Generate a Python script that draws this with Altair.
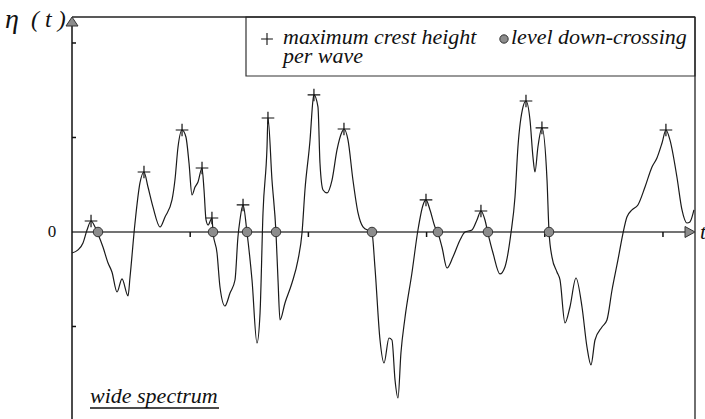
import altair as alt
import pandas as pd

# ---- surface elevation trace eta(t) ----
t_vals = [0.000, 0.051, 0.093, 0.127, 0.161, 0.195, 0.220, 0.262, 0.305, 0.338,
          0.381, 0.423, 0.474, 0.491, 0.533, 0.575, 0.609, 0.643, 0.685, 0.745,
          0.787, 0.846, 0.871, 0.897, 0.931, 0.964, 0.990, 1.015, 1.041, 1.066,
          1.100, 1.117, 1.134, 1.151, 1.184, 1.193, 1.227, 1.252, 1.294, 1.337,
          1.379, 1.404, 1.421, 1.447, 1.481, 1.523, 1.565, 1.591, 1.616, 1.650,
          1.658, 1.692, 1.726, 1.743, 1.760, 1.802, 1.861, 1.912, 1.946, 1.971,
          2.014, 2.039, 2.047, 2.081, 2.098, 2.124, 2.157, 2.200, 2.242, 2.284,
          2.301, 2.335, 2.377, 2.420, 2.462, 2.538, 2.563, 2.606, 2.640, 2.682,
          2.707, 2.733, 2.758, 2.783, 2.817, 2.876, 2.927, 2.970, 2.995, 3.029,
          3.071, 3.096, 3.130, 3.173, 3.223, 3.283, 3.325, 3.384, 3.426, 3.460,
          3.494, 3.519, 3.562, 3.621, 3.663, 3.714, 3.748, 3.773, 3.816, 3.841,
          3.875, 3.900, 3.917, 3.942, 3.976, 4.019, 4.036, 4.061, 4.103, 4.129,
          4.171, 4.213, 4.264, 4.315, 4.357, 4.391, 4.425, 4.484, 4.526, 4.569,
          4.619, 4.662, 4.695, 4.738, 4.788, 4.848, 4.907, 4.949, 4.992, 5.025,
          5.059, 5.118, 5.161, 5.203, 5.228, 5.262]
eta_vals = [-0.222, -0.190, -0.116, 0.021, 0.116, 0.053, -0.021, -0.159, -0.328, -0.423,
            -0.635, -0.497, -0.677, -0.476, 0.095, 0.519, 0.635, 0.476, 0.265, 0.053,
            0.159, 0.339, 0.550, 0.899, 1.079, 1.005, 0.730, 0.392, 0.476, 0.529,
            0.677, 0.444, 0.127, 0.074, 0.148, 0.000, -0.222, -0.582, -0.783, -0.646,
            -0.508, -0.053, 0.127, 0.286, -0.011, -0.508, -1.175, -0.857, 0.201, 0.899,
            1.206, 0.550, -0.011, -0.508, -0.931, -0.751, -0.540, -0.296, -0.011, 0.444,
            0.974, 1.397, 1.450, 1.323, 0.730, 0.444, 0.413, 0.550, 0.868, 1.058,
            1.090, 0.974, 0.550, 0.201, 0.053, -0.011, -0.370, -1.143, -1.386, -1.122,
            -1.143, -1.566, -1.757, -1.280, -0.910, -0.434, 0.021, 0.286, 0.339, 0.233,
            0.053, -0.011, -0.159, -0.381, -0.265, -0.085, 0.000, 0.021, 0.127, 0.222,
            0.127, -0.011, -0.222, -0.444, -0.370, -0.011, 0.370, 0.899, 1.323, 1.386,
            1.185, 0.794, 0.635, 0.899, 1.101, 0.550, 0.000, -0.265, -0.423, -0.508,
            -0.963, -0.794, -0.487, -0.794, -1.217, -1.407, -1.143, -1.005, -0.931, -0.614,
            -0.296, -0.011, 0.159, 0.233, 0.286, 0.476, 0.688, 0.783, 0.942, 1.079,
            0.974, 0.582, 0.233, 0.095, 0.106, 0.233]

# maximum crest height per wave
crest_t = [0.161, 0.609, 0.931, 1.100, 1.184, 1.447, 1.658, 2.047, 2.301,
           2.995, 3.460, 3.841, 3.976, 5.025]
crest_eta = [0.116, 0.635, 1.079, 0.677, 0.148, 0.286, 1.206, 1.450, 1.090,
             0.339, 0.222, 1.386, 1.101, 1.079]

# level down-crossings (eta = 0)
cross_t = [0.220, 1.193, 1.481, 1.726, 2.538, 3.096, 3.519, 4.036]

# axis ticks
xtick_vals = [1, 2, 3, 4, 5]
ytick_vals = [-1, 1, 2]

legend_labels = ["maximum crest height", "per wave", "level down-crossing"]

W, H = 623, 402
FONT = "Liberation Serif"
xs = alt.Scale(domain=[0, 5.271], nice=False, zero=False)
ys = alt.Scale(domain=[-1.979, 2.275], nice=False, zero=False)

wave = pd.DataFrame({"t": t_vals, "eta": eta_vals})
crest = pd.DataFrame({"t": crest_t, "eta": crest_eta})
cross = pd.DataFrame({"t": cross_t, "eta": [0.0] * len(cross_t)})
xt = pd.DataFrame({"t": xtick_vals})
yt = pd.DataFrame({"eta": ytick_vals})
one = pd.DataFrame({"a": [0]})

X = lambda: alt.X("t:Q", scale=xs, axis=None)
Y = lambda: alt.Y("eta:Q", scale=ys, axis=None)

PLUS = "M-1,0L1,0M0,-1L0,1"

legend_box = alt.Chart(one).mark_rect(fill="white", stroke="#333333", strokeWidth=1.2).encode(
    x=alt.value(174), x2=alt.value(623), y=alt.value(0), y2=alt.value(59))

zero_line = alt.Chart(one).mark_rule(color="#444444", strokeWidth=1.6).encode(
    x=alt.value(0), x2=alt.value(614), y=alt.Y(datum=0, scale=ys, axis=None))

left_axis = alt.Chart(one).mark_rule(color="#111111", strokeWidth=1.5).encode(
    x=alt.value(0), y=alt.value(6), y2=alt.value(H))
top_border = alt.Chart(one).mark_rule(color="#222222", strokeWidth=1.3).encode(
    x=alt.value(0), x2=alt.value(W), y=alt.value(0))
right_border = alt.Chart(one).mark_rule(color="#222222", strokeWidth=1.3).encode(
    x=alt.value(W), y=alt.value(0), y2=alt.value(H))

ytick = alt.Chart(yt).mark_rule(color="#111111", strokeWidth=1.5).encode(
    x=alt.value(0), x2=alt.value(4), y=Y())
xtick = alt.Chart(xt).mark_rule(color="#111111", strokeWidth=1.5).encode(
    x=X(), y=alt.Y(datum=0, scale=ys, axis=None), y2=alt.value(220))

curve = alt.Chart(wave).mark_line(color="#1a1a1a", strokeWidth=1.2, interpolate="monotone").encode(
    x=X(), y=Y(), order="t:Q")

crest_pts = alt.Chart(crest).mark_point(shape=PLUS, size=160, color="#111111",
                                         strokeWidth=1.2, filled=False, opacity=1).encode(x=X(), y=Y())
cross_pts = alt.Chart(cross).mark_point(shape="circle", size=90, fill="#8c8c8c", stroke="#333333",
                                         strokeWidth=1, filled=True, opacity=1).encode(x=X(), y=Y())

up_arrow = alt.Chart(one).mark_point(shape="M0,-0.75L1,0.75L-1,0.75Z", size=144, fill="#8c8c8c",
                                      stroke="#333333", strokeWidth=1, filled=True, opacity=1).encode(
    x=alt.value(0), y=alt.value(4.5))
right_arrow = alt.Chart(one).mark_point(shape="M1,0L-1,-1.1L-1,1.1Z", size=100, fill="#8c8c8c",
                                         stroke="#333333", strokeWidth=1, filled=True, opacity=1).encode(
    x=alt.value(618), y=alt.Y(datum=0, scale=ys, axis=None))


def txt(s, x, y, size=22, style="italic", align="left", baseline="alphabetic"):
    return alt.Chart(one).mark_text(text=s, font=FONT, fontSize=size, fontStyle=style,
                                    align=align, baseline=baseline, color="#111111").encode(
        x=alt.value(x), y=alt.value(y))


leg_plus = alt.Chart(one).mark_point(shape=PLUS, size=140, color="#111111", strokeWidth=1.1,
                                      filled=False, opacity=1).encode(x=alt.value(195), y=alt.value(22))
leg_circ = alt.Chart(one).mark_point(shape="circle", size=70, fill="#8c8c8c", stroke="#333333",
                                      strokeWidth=1, filled=True, opacity=1).encode(x=alt.value(432), y=alt.value(22))

t1 = txt(legend_labels[0], 211, 27)
t2 = txt(legend_labels[1], 211, 46)
t3 = txt(legend_labels[2], 439, 27)
t_wide = txt("wide spectrum", 18, 386)
underline = alt.Chart(one).mark_rule(color="#111111", strokeWidth=1.4).encode(
    x=alt.value(18), x2=alt.value(147), y=alt.value(391))
t_eta = txt("η", -67, 11, size=28)
t_paren = txt("( t )", -41, 10, size=24)
t_zero = alt.Chart(one).mark_text(text="0", font=FONT, fontSize=17, align="center", baseline="middle",
                                   color="#111111").encode(x=alt.value(-20), y=alt.Y(datum=0, scale=ys, axis=None))
t_t = alt.Chart(one).mark_text(text="t", font=FONT, fontSize=22, fontStyle="italic", align="left",
                                baseline="middle", color="#111111").encode(
    x=alt.value(628), y=alt.Y(datum=0, scale=ys, axis=None))

chart = alt.layer(
    legend_box, zero_line, left_axis, top_border, right_border, ytick, xtick,
    curve, crest_pts, cross_pts, up_arrow, right_arrow,
    leg_plus, leg_circ, t1, t2, t3, t_wide, underline, t_eta, t_paren, t_zero, t_t
).properties(
    width=W, height=H,
    autosize=alt.AutoSizeParams(type="none"),
    padding={"left": 72, "top": 17, "right": 10, "bottom": 0},
).configure_view(strokeWidth=0)

chart.save("out.html", embed_options={"renderer": "svg", "actions": False})
